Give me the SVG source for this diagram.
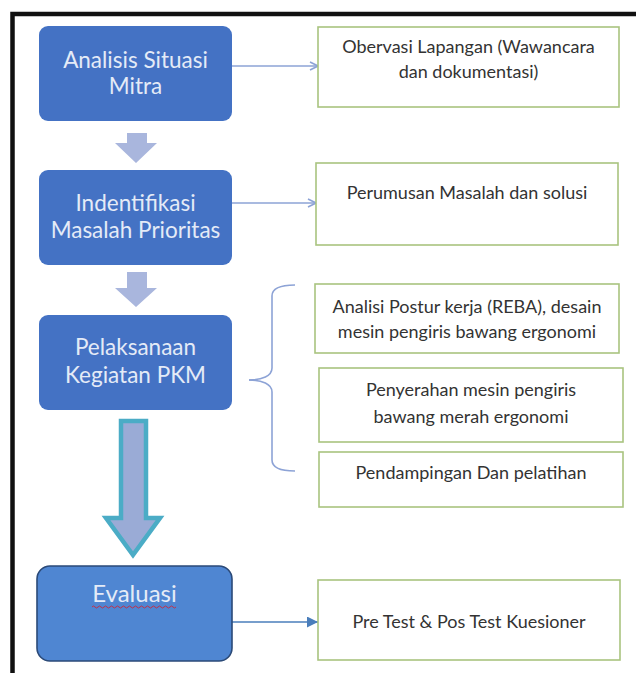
<svg xmlns="http://www.w3.org/2000/svg" width="636" height="673" viewBox="0 0 636 673">
<defs>
<style>
.blue{fill:#4472c4;}
.bt{font-family:Lato,"Liberation Sans",sans-serif;font-size:22.5px;fill:#e4ebf7;text-anchor:middle;}
.gbox{fill:#ffffff;stroke:#a9c47f;stroke-width:1.6;}
.gt{font-family:Lato,"Liberation Sans",sans-serif;font-size:18px;fill:#333333;text-anchor:middle;}
.conn{stroke:#8da3d6;stroke-width:1.6;fill:none;}
.chev{fill:#a9b6dd;}
</style>
<marker id="open" viewBox="0 0 10 10" refX="9" refY="5" markerWidth="10" markerHeight="10" markerUnits="userSpaceOnUse" orient="auto">
<path d="M1,1 L9,5 L1,9" fill="none" stroke="#8da3d6" stroke-width="1.6"/>
</marker>
<marker id="solid" viewBox="0 0 10 10" refX="10" refY="5" markerWidth="11" markerHeight="11" markerUnits="userSpaceOnUse" orient="auto">
<path d="M0,0 L10,5 L0,10 Z" fill="#4a7ebb"/>
</marker>
</defs>
<rect width="636" height="673" fill="#ffffff"/>
<path d="M12.5,673 V14 H636" fill="none" stroke="#111111" stroke-width="4.5"/>

<g id="connectors">
<line class="conn" x1="232" y1="66" x2="318" y2="66" marker-end="url(#open)"/>
<line class="conn" x1="232" y1="203" x2="316" y2="203" marker-end="url(#open)"/>
<line x1="232" y1="622" x2="318" y2="622" stroke="#4a7ebb" stroke-width="1.6" marker-end="url(#solid)"/>
<path class="conn" d="M249,380 C262,380 272,376 272,368 V296 C272,289 280,285 295,285"/>
<path class="conn" d="M249,380 C262,380 272,384 272,392 V460 C272,467 280,471 295,471"/>
<path class="chev" d="M127,133 H147 V143 H157 L136,163 L115,143 H127 Z"/>
<path class="chev" d="M127,272 H147 V288 H157 L136,307 L115,288 H127 Z"/>
<path d="M121,421 H146 V518 H160 L133,555 L106,518 H121 Z" fill="#9aabd6" stroke="#4bacc6" stroke-width="4.5" stroke-linejoin="miter"/>
</g>

<g id="n-analisis">
<rect class="blue" x="39" y="26" width="193" height="95" rx="9"/>
<text class="bt" x="135.5" y="68">Analisis Situasi</text>
<text class="bt" x="135.5" y="94">Mitra</text>
</g>
<g id="n-indentifikasi">
<rect class="blue" x="39" y="170" width="193" height="95" rx="9"/>
<text class="bt" x="135.5" y="211">Indentifikasi</text>
<text class="bt" x="135.5" y="238">Masalah Prioritas</text>
</g>
<g id="n-pelaksanaan">
<rect class="blue" x="39" y="315" width="193" height="95" rx="9"/>
<text class="bt" x="135.5" y="355">Pelaksanaan</text>
<text class="bt" x="135.5" y="383">Kegiatan PKM</text>
</g>
<g id="n-evaluasi">
<rect x="37" y="566" width="195" height="95" rx="13" fill="#4f86d2" stroke="#2b4a78" stroke-width="1.6"/>
<text class="bt" x="134.5" y="602" style="font-size:24px">Evaluasi</text>
<path d="M92,607 q1.5,-2 3,0 t3,0 t3,0 t3,0 t3,0 t3,0 t3,0 t3,0 t3,0 t3,0 t3,0 t3,0 t3,0 t3,0 t3,0 t3,0 t3,0 t3,0 t3,0 t3,0 t3,0 t3,0 t3,0 t3,0 t3,0 t3,0 t3,0 t3,0" fill="none" stroke="#c0304a" stroke-width="1"/>
</g>
<g id="n-obervasi">
<rect class="gbox" x="318" y="27" width="301" height="80"/>
<text class="gt" x="468.5" y="53">Obervasi Lapangan (Wawancara</text>
<text class="gt" x="468.5" y="78">dan dokumentasi)</text>
</g>
<g id="n-perumusan">
<rect class="gbox" x="316" y="163" width="302" height="82"/>
<text class="gt" x="467" y="199">Perumusan Masalah dan solusi</text>
</g>
<g id="n-analisi-postur">
<rect class="gbox" x="315" y="284" width="304" height="69"/>
<text class="gt" x="467" y="313">Analisi Postur kerja (REBA), desain</text>
<text class="gt" x="467" y="338">mesin pengiris bawang ergonomi</text>
</g>
<g id="n-penyerahan">
<rect class="gbox" x="319" y="368" width="304" height="74"/>
<text class="gt" x="471" y="396">Penyerahan mesin pengiris</text>
<text class="gt" x="471" y="423">bawang merah ergonomi</text>
</g>
<g id="n-pendampingan">
<rect class="gbox" x="319" y="452" width="304" height="55"/>
<text class="gt" x="471" y="479">Pendampingan Dan pelatihan</text>
</g>
<g id="n-pretest">
<rect class="gbox" x="318" y="580" width="302" height="80"/>
<text class="gt" x="469" y="628">Pre Test &amp; Pos Test Kuesioner</text>
</g>
</svg>
